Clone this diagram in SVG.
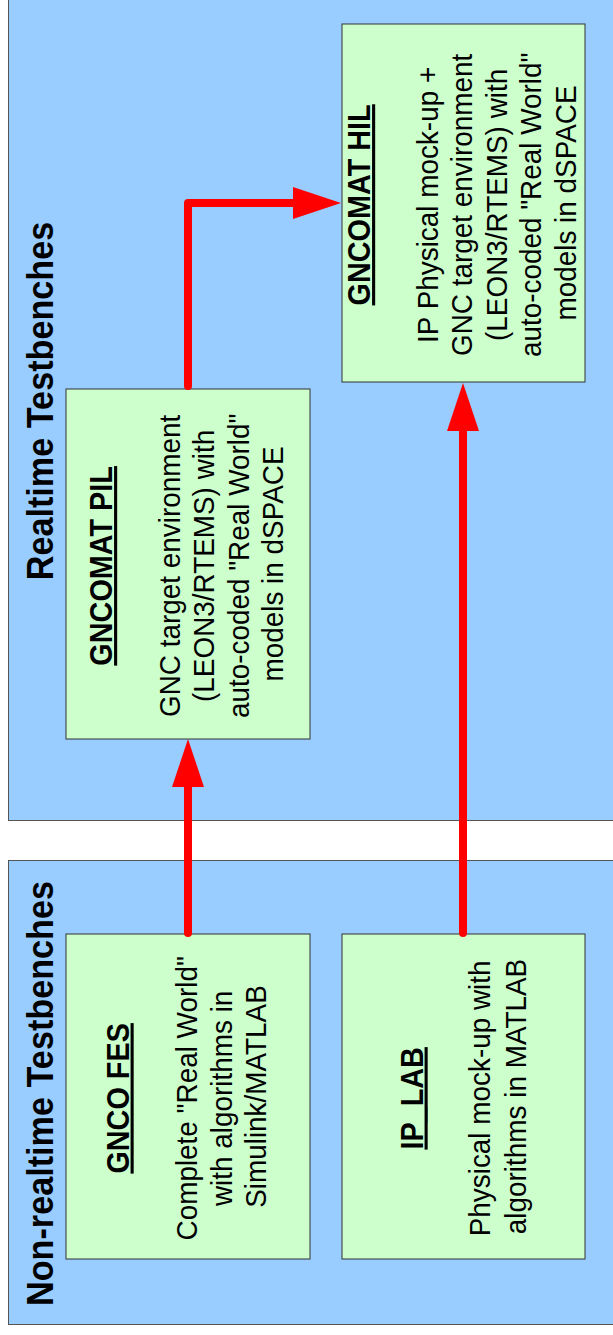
<svg xmlns="http://www.w3.org/2000/svg" width="613" height="1335" viewBox="0 0 613 1335">
<defs>
<style>
.container{fill:#99ccff;stroke:#555;stroke-width:1}
.node{fill:#ccffcc;stroke:#333;stroke-width:1}
.ctitle{font-family:"Liberation Sans",Arial,sans-serif;font-size:36px;font-weight:bold;fill:#000;text-anchor:middle}
.ntitle{font-family:"Liberation Sans",Arial,sans-serif;font-size:31px;font-weight:bold;fill:#000;text-anchor:middle;text-decoration:underline}
.body{font-family:"Liberation Sans",Arial,sans-serif;font-size:30px;fill:#000;text-anchor:middle}
.conn{fill:none;stroke:#ff0000;stroke-width:8;stroke-linecap:round;stroke-linejoin:round}
</style>
<marker id="arrow" markerUnits="userSpaceOnUse" markerWidth="48" markerHeight="32" refX="0" refY="16" orient="auto" overflow="visible">
<path d="M0,0 L48,16 L0,32 Z" fill="#ff0000"/>
</marker>
</defs>
<rect width="613" height="1335" fill="#ffffff"/>
<g id="realtime">
<rect class="container" x="8.5" y="-20" width="620" height="840.5"/>
<text class="ctitle" transform="translate(53,401) rotate(-90) scale(0.95,1)">Realtime Testbenches</text>
</g>
<g id="nonrealtime">
<rect class="container" x="8.5" y="860.5" width="620" height="464"/>
<text class="ctitle" transform="translate(53,1093.5) rotate(-90) scale(0.95,1)">Non-realtime Testbenches</text>
</g>
<g id="gncomat-hil">
<rect class="node" x="342" y="24" width="243" height="358"/>
<text transform="translate(370,203) rotate(-90) scale(0.93,1)">
<tspan class="ntitle" x="0" y="0">GNCOMAT HIL</tspan>
<tspan class="body" x="0" y="68">IP Physical mock-up +</tspan>
<tspan class="body" x="0" y="102.5">GNC target environment</tspan>
<tspan class="body" x="0" y="137">(LEON3/RTEMS) with</tspan>
<tspan class="body" x="0" y="171.5">auto-coded "Real World"</tspan>
<tspan class="body" x="0" y="206">models in dSPACE</tspan>
</text>
</g>
<g id="gncomat-pil">
<rect class="node" x="66" y="389" width="244" height="350"/>
<text transform="translate(112,564) rotate(-90) scale(0.93,1)">
<tspan class="ntitle" x="0" y="0">GNCOMAT PIL</tspan>
<tspan class="body" x="0" y="68">GNC target environment</tspan>
<tspan class="body" x="0" y="102.5">(LEON3/RTEMS) with</tspan>
<tspan class="body" x="0" y="137">auto-coded "Real World"</tspan>
<tspan class="body" x="0" y="171.5">models in dSPACE</tspan>
</text>
</g>
<g id="gnco-fes">
<rect class="node" x="66" y="934" width="244" height="325"/>
<text transform="translate(128.5,1096.5) rotate(-90) scale(0.93,1)">
<tspan class="ntitle" x="0" y="0">GNCO FES</tspan>
<tspan class="body" x="0" y="69">Complete "Real World"</tspan>
<tspan class="body" x="0" y="103.5">with algorithms in</tspan>
<tspan class="body" x="0" y="138">Simulink/MATLAB</tspan>
</text>
</g>
<g id="ip-lab">
<rect class="node" x="342" y="934" width="243" height="325"/>
<text transform="translate(422.5,1096.5) rotate(-90) scale(0.93,1)">
<tspan class="ntitle" x="0" y="0">IP_LAB</tspan>
<tspan class="body" x="0" y="68">Physical mock-up with</tspan>
<tspan class="body" x="0" y="103.5">algorithms in MATLAB</tspan>
</text>
</g>
<g id="connectors">
<path class="conn" d="M188,933 L188,787" marker-end="url(#arrow)"/>
<path class="conn" d="M463,933 L463,431" marker-end="url(#arrow)"/>
<path class="conn" d="M188,386 L188,203 L293,203" marker-end="url(#arrow)"/>
</g>
</svg>
